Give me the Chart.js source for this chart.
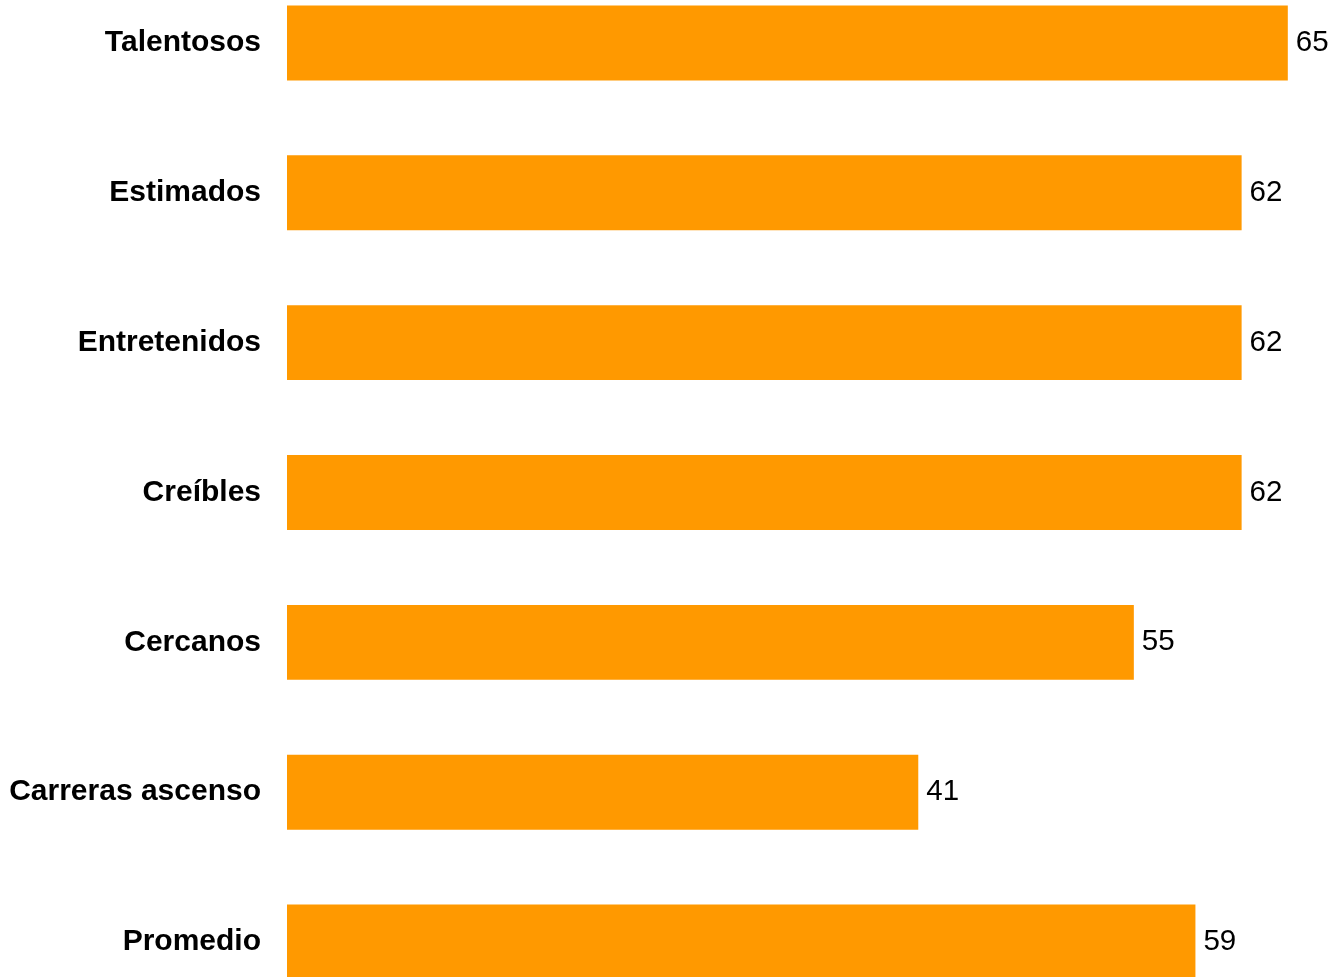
<!DOCTYPE html>
<html>
<head>
<meta charset="utf-8">
<script src="https://cdn.jsdelivr.net/npm/chart.js@4"></script>
<style>
  html, body { margin: 0; padding: 0; background: #fff; overflow: hidden; width: 1334px; height: 977px; }
  #wrap { position: absolute; left: 0; top: -50px; width: 1334px; height: 1085px; }
  canvas { display: block; }
</style>
</head>
<body>
<div id="wrap"><canvas id="c" width="1334" height="1085"></canvas></div>
<script>
const categories = ["Talentosos", "Estimados", "Entretenidos", "Creíbles", "Cercanos", "Carreras ascenso", "Promedio"];
const values = [65, 62, 62, 62, 55, 41, 59];

const valueLabels = {
  id: 'valueLabels',
  afterDatasetsDraw(chart) {
    const ctx = chart.ctx;
    const meta = chart.getDatasetMeta(0);
    ctx.save();
    ctx.font = '29.5px "Liberation Sans", Arial, sans-serif';
    ctx.fillStyle = '#000';
    ctx.textAlign = 'left';
    ctx.textBaseline = 'middle';
    meta.data.forEach((bar, i) => {
      ctx.fillText(String(values[i]), bar.x + 8, bar.y);
    });
    ctx.restore();
  }
};

new Chart(document.getElementById('c'), {
  type: 'bar',
  data: {
    labels: categories,
    datasets: [{
      data: values,
      backgroundColor: '#FF9900',
      borderWidth: 0,
      barPercentage: 0.5,
      categoryPercentage: 1.0
    }]
  },
  options: {
    indexAxis: 'y',
    responsive: false,
    animation: false,
    events: [],
    layout: { padding: 0, autoPadding: false },
    plugins: { legend: { display: false }, tooltip: { enabled: false } },
    scales: {
      x: {
        min: 0, max: 68,
        display: false,
        grid: { display: false }
      },
      y: {
        grid: { display: false, drawTicks: true, tickLength: 26 },
        border: { display: false },
        afterFit(scale) { scale.width = 287; },
        ticks: {
          padding: 0,
          color: '#000',
          font: { family: '"Liberation Sans", Arial, sans-serif', size: 30, weight: 'bold' }
        }
      }
    }
  },
  plugins: [valueLabels]
});
</script>
</body>
</html>
